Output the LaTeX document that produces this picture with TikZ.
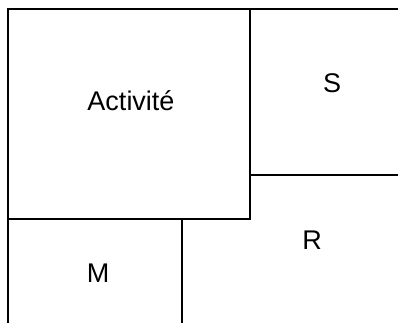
\documentclass[tikz,border=0pt]{standalone}
\usepackage{fontspec}
\setmainfont{Liberation Sans}
\begin{document}
\begin{tikzpicture}[x=1pt,y=-1pt,
  wall/.style={line width=2pt,black,line cap=rect},
  label/.style={anchor=base,inner sep=0pt,font=\fontsize{27}{32}\selectfont}]
  \useasboundingbox (0,0) rectangle (398,322);
  % outer frame: top and left edges
  \draw[wall] (398,9) -- (8,9) -- (8,322);
  % Activité block
  \draw[wall] (250,9) -- (250,219) -- (8,219);
  % S / R divider
  \draw[wall] (250,175) -- (398,175);
  % M block
  \draw[wall] (182,219) -- (182,322);
  \node[label] (act) at (131,110) {Activité};
  \node[label] (s) at (332,92) {S};
  \node[label] (r) at (312,249) {R};
  \node[label] (m) at (98,282) {M};
\end{tikzpicture}
\end{document}
